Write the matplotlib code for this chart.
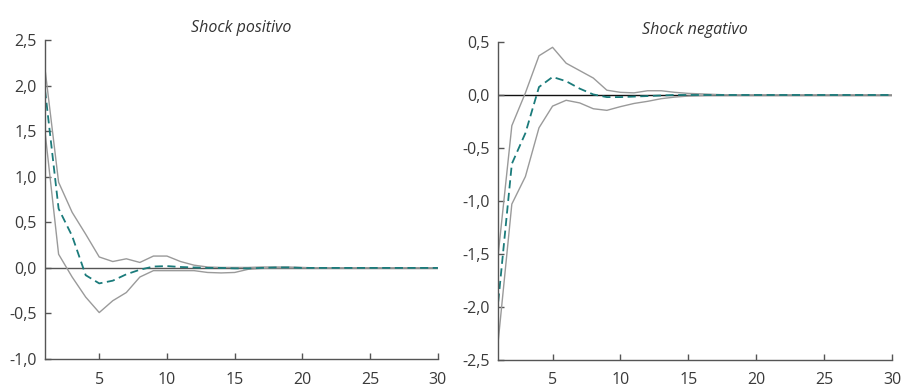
import numpy as np
import matplotlib.pyplot as plt

plt.rcParams['font.family'] = ['Open Sans', 'DejaVu Sans']

periodos = np.arange(1, 31)

# Shock positivo
pos_sup = [2.18, 0.94, 0.61, 0.37, 0.12, 0.07, 0.10, 0.06, 0.13, 0.13,
           0.07, 0.03, 0.01, 0.005, 0.005, 0.005, 0.01, 0.01, 0.01, 0.005,
           0, 0, 0, 0, 0, 0, 0, 0, 0, 0]
pos_med = [1.95, 0.65, 0.35, -0.08, -0.17, -0.14, -0.07, -0.02, 0.015, 0.02,
           0.01, 0.005, 0, 0, -0.005, -0.005, 0, 0.005, 0.005, 0,
           0, 0, 0, 0, 0, 0, 0, 0, 0, 0]
pos_inf = [1.49, 0.15, -0.10, -0.32, -0.49, -0.36, -0.27, -0.10, -0.03, -0.03,
           -0.03, -0.03, -0.05, -0.055, -0.05, -0.015, -0.005, 0, 0, 0,
           0, 0, 0, 0, 0, 0, 0, 0, 0, 0]

# Shock negativo
neg_sup = [-1.50, -0.29, 0.02, 0.37, 0.45, 0.30, 0.23, 0.16, 0.045, 0.025,
           0.02, 0.04, 0.04, 0.025, 0.015, 0.01, 0.005, 0, 0, 0,
           0, 0, 0, 0, 0, 0, 0, 0, 0, 0]
neg_med = [-1.95, -0.65, -0.36, 0.075, 0.17, 0.13, 0.06, 0.005, -0.02, -0.02,
           -0.015, -0.01, -0.005, 0, 0, 0, 0, 0, 0, 0,
           0, 0, 0, 0, 0, 0, 0, 0, 0, 0]
neg_inf = [-2.32, -1.03, -0.77, -0.31, -0.105, -0.05, -0.075, -0.13, -0.145, -0.11,
           -0.08, -0.06, -0.035, -0.02, -0.01, -0.005, 0, 0, 0, 0,
           0, 0, 0, 0, 0, 0, 0, 0, 0, 0]

fig = plt.figure(figsize=(9.01, 3.89), dpi=100)
ax1 = fig.add_axes([0.050, 0.077, 0.436, 0.820])
ax2 = fig.add_axes([0.553, 0.075, 0.437, 0.817])

gris = '#9a9a9a'
teal = '#1b7b7b'


def panel(ax, sup, med, inf, titulo, ylim, yticks, cero):
    ax.axhline(0, color=cero, lw=1.0, zorder=1)
    ax.plot(periodos, sup, color=gris, lw=1.0)
    ax.plot(periodos, inf, color=gris, lw=1.0)
    ax.plot(periodos, med, color=teal, lw=1.3, linestyle=(0, (4.5, 2.5)))
    ax.set_xlim(1, 30)
    ax.set_ylim(*ylim)
    ax.set_xticks([5, 10, 15, 20, 25, 30])
    ax.set_yticks(yticks)
    ax.set_yticklabels([('%.1f' % v).replace('.', ',') for v in yticks])
    for s in ['top', 'right']:
        ax.spines[s].set_visible(False)
    for s in ['left', 'bottom']:
        ax.spines[s].set_color('#555555')
        ax.spines[s].set_linewidth(1.0)
    ax.tick_params(direction='in', length=4, width=1.0, color='#555555',
                   labelsize=11.5, labelcolor='#3a3a3a')
    ax.tick_params(axis='y', pad=6)
    ax.tick_params(axis='x', pad=9)
    ax.set_title(titulo, style='italic', fontsize=11.5, color='#333333', pad=6)


panel(ax1, pos_sup, pos_med, pos_inf, 'Shock positivo', (-1.0, 2.5),
      [-1.0, -0.5, 0.0, 0.5, 1.0, 1.5, 2.0, 2.5], '#555555')
panel(ax2, neg_sup, neg_med, neg_inf, 'Shock negativo', (-2.5, 0.5),
      [-2.5, -2.0, -1.5, -1.0, -0.5, 0.0, 0.5], '#111111')

fig.savefig('out.png', dpi=100)
